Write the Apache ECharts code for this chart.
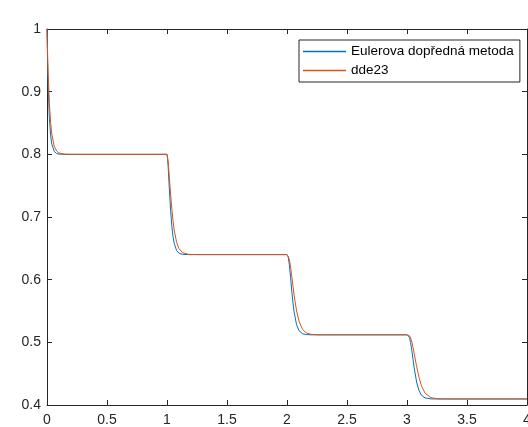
<!DOCTYPE html>
<html>
<head>
<meta charset="utf-8">
<script src="https://cdn.jsdelivr.net/npm/echarts@6/dist/echarts.min.js"></script>
<style>
html,body{margin:0;padding:0;background:#fff;}
#c{width:528px;height:427px;}
</style>
</head>
<body>
<div id="c"></div>
<script>
var seriesNames = ['Eulerova dopředná metoda', 'dde23'];
var xTicks = [0, 0.5, 1, 1.5, 2, 2.5, 3, 3.5, 4];
var yTicks = [0.4, 0.5, 0.6, 0.7, 0.8, 0.9, 1];

var tEuler = [0, 0.005, 0.01, 0.02, 0.03, 0.04, 0.06, 0.08, 0.1, 0.15,
  1.0, 1.005, 1.01, 1.02, 1.03, 1.04, 1.05, 1.06, 1.08, 1.1, 1.13, 1.18,
  2.0, 2.01, 2.02, 2.03, 2.04, 2.05, 2.06, 2.08, 2.1, 2.13, 2.16, 2.2,
  3.0, 3.01, 3.02, 3.03, 3.04, 3.05, 3.06, 3.08, 3.1, 3.12, 3.15, 3.2, 3.25, 4.0];
var yEuler = [1.0, 0.9463, 0.9071, 0.8573, 0.8307, 0.8164, 0.8047, 0.8013, 0.8004, 0.8,
  0.8, 0.7936, 0.7792, 0.7431, 0.7106, 0.6860, 0.6690, 0.6579, 0.6465, 0.6422, 0.6404, 0.64,
  0.64, 0.6367, 0.6232, 0.6030, 0.5816, 0.5627, 0.5475, 0.5280, 0.5186, 0.5136, 0.5124, 0.512,
  0.512, 0.5116, 0.5081, 0.4996, 0.4872, 0.4730, 0.4591, 0.4367, 0.4229, 0.4157, 0.4113, 0.4098, 0.4096, 0.4096];

var tDde = [0, 0.005, 0.01, 0.02, 0.03, 0.04, 0.06, 0.08, 0.1, 0.15, 0.2,
  1.0, 1.01, 1.02, 1.03, 1.04, 1.05, 1.06, 1.08, 1.1, 1.13, 1.18, 1.24,
  2.0, 2.01, 2.02, 2.03, 2.04, 2.05, 2.06, 2.08, 2.1, 2.13, 2.16, 2.2, 2.26, 2.32,
  3.0, 3.01, 3.02, 3.03, 3.04, 3.05, 3.06, 3.08, 3.1, 3.12, 3.15, 3.2, 3.26, 3.35, 4.0];
var yDde = [1.0, 0.9594, 0.9270, 0.8806, 0.8511, 0.8325, 0.8131, 0.8053, 0.8021, 0.8002, 0.8,
  0.8, 0.7877, 0.7631, 0.7367, 0.7132, 0.6940, 0.6790, 0.6596, 0.6494, 0.6430, 0.6404, 0.64,
  0.64, 0.6386, 0.6318, 0.6198, 0.6049, 0.5892, 0.5743, 0.5500, 0.5336, 0.5205, 0.5151, 0.5127, 0.5120, 0.512,
  0.512, 0.5119, 0.5106, 0.5069, 0.5006, 0.4920, 0.4821, 0.4616, 0.4439, 0.4308, 0.4190, 0.4116, 0.4099, 0.4096, 0.4096];

function pairs(xs, ys) { return xs.map(function (x, i) { return [x, ys[i]]; }); }

var axisColor = '#262626';
var font = '"Liberation Sans", Arial, Helvetica, sans-serif';
var xMin = xTicks[0], xMax = xTicks[xTicks.length - 1];
var yMin = yTicks[0], yMax = yTicks[yTicks.length - 1];

function xAx(pos, showLabel) {
  return {
    type: 'value', position: pos, min: xMin, max: xMax, interval: 0.5,
    axisLine: { show: true, onZero: false, lineStyle: { color: axisColor, width: 1 } },
    axisTick: { show: true, inside: true, length: 5, lineStyle: { color: axisColor } },
    axisLabel: { show: showLabel, color: axisColor, fontSize: 14, fontFamily: font, margin: 8,
      hideOverlap: false, showMinLabel: true, showMaxLabel: true },
    splitLine: { show: false }
  };
}
function yAx(pos, showLabel) {
  return {
    type: 'value', position: pos, min: yMin, max: yMax, interval: 0.1,
    axisLine: { show: true, onZero: false, lineStyle: { color: axisColor, width: 1 } },
    axisTick: { show: true, inside: true, length: 5, lineStyle: { color: axisColor } },
    axisLabel: { show: showLabel, color: axisColor, fontSize: 14, fontFamily: font, margin: 6,
      showMinLabel: true, showMaxLabel: true },
    splitLine: { show: false }
  };
}

var chart = echarts.init(document.getElementById('c'), null, { renderer: 'canvas' });
chart.setOption({
  backgroundColor: '#fff',
  animation: false,
  grid: { left: 47, top: 29, right: 1, bottom: 22, containLabel: false, outerBoundsMode: 'none' },
  xAxis: [xAx('bottom', true), xAx('top', false)],
  yAxis: [yAx('left', true), yAx('right', false)],
  legend: {
    orient: 'vertical', left: 299, top: 40,
    padding: [4, 6, 4, 4], itemGap: 4,
    borderColor: axisColor, borderWidth: 1, backgroundColor: '#fff',
    itemWidth: 43, itemHeight: 1.5,
    textStyle: { fontSize: 13.5, fontFamily: font, color: '#000', lineHeight: 15 },
    data: [{ name: seriesNames[0], icon: 'rect' }, { name: seriesNames[1], icon: 'rect' }]
  },
  series: [
    { name: seriesNames[0], type: 'line', data: pairs(tEuler, yEuler), showSymbol: false,
      xAxisIndex: 0, yAxisIndex: 0, itemStyle: { color: '#0072BD' },
      lineStyle: { color: '#0072BD', width: 1 } },
    { name: seriesNames[1], type: 'line', data: pairs(tDde, yDde), showSymbol: false,
      xAxisIndex: 0, yAxisIndex: 0, itemStyle: { color: '#D95319' },
      lineStyle: { color: '#D95319', width: 1 } }
  ]
});
</script>
</body>
</html>
